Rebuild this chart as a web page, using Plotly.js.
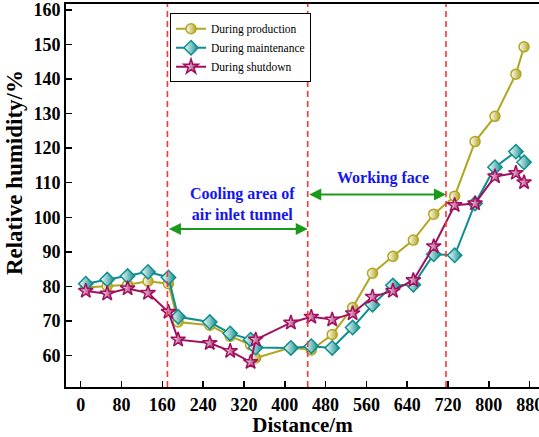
<!DOCTYPE html>
<html>
<head>
<meta charset="utf-8">
<script src="https://cdn.plot.ly/plotly-3.0.1.min.js"></script>
<style>html,body{margin:0;padding:0;background:#fff;}</style>
</head>
<body>
<div id="chart" style="width:539px;height:437px;"></div>
<script>
var distance = [10, 52, 92, 132, 172, 191, 253, 293, 333, 343, 412, 452, 493, 533, 572, 612, 652, 692, 733, 773, 812, 853, 869];
var production = [79.7, 80.1, 80.5, 81.5, 80.8, 69.7, 68.8, 65.6, 63.1, 59.3, 62.3, 61.6, 66.1, 73.9, 83.8, 88.7, 93.4, 100.9, 106.1, 121.9, 129.2, 141.4, 149.3];
var maintenance = [80.8, 82.0, 83.0, 84.2, 82.6, 71.2, 69.7, 66.4, 64.6, 62.3, 62.2, 62.7, 62.2, 68.1, 74.7, 80.3, 80.5, 89.3, 89.0, 104.0, 114.5, 119.0, 115.9];
var shutdown = [78.7, 77.9, 79.4, 78.1, 72.6, 64.6, 63.6, 61.3, 58.1, 64.6, 69.5, 71.2, 70.4, 72.2, 77.0, 78.7, 81.8, 91.6, 103.5, 104.0, 111.8, 112.8, 110.1];
var seriesNames = ["During production", "During maintenance", "During shutdown"];
var boundaries = [170, 445, 716];
var xTicks = [0, 80, 160, 240, 320, 400, 480, 560, 640, 720, 800, 880];
var yTicks = [60, 70, 80, 90, 100, 110, 120, 130, 140, 150, 160];
var regionLabels = ["Cooling area of<br>air inlet tunnel", "Working face"];
var regionArrowY = [96.6, 106.6];
var regionLabelPos = [[317, 103.8], [593, 111.5]];
var xTitle = "Distance/m";
var yTitle = "Relative humidity/%";

var colors = ["#B2A620", "#0E8E8E", "#A0105E"];
var symbols = ["circle", "diamond", "star"];
var sizes = [10, 11, 11];
var ys = [production, maintenance, shutdown];

var traces = ys.map(function(y, i) {
  return {
    x: distance, y: y, type: "scatter", mode: "lines+markers",
    name: seriesNames[i],
    line: {color: colors[i], width: 2},
    marker: {symbol: symbols[i], size: sizes[i], color: "#ffffff",
             gradient: {type: "horizontal", color: colors[i]},
             line: {color: colors[i], width: 1.5}}
  };
});

var shapes = boundaries.map(function(b) {
  return {type: "line", xref: "x", yref: "paper", x0: b, x1: b, y0: 0, y1: 1,
          line: {color: "#FF3333", width: 1.6, dash: "6px,4px"}};
});

var annotations = [
  {x: boundaries[1], y: regionArrowY[0], ax: boundaries[0], ay: regionArrowY[0],
   xref: "x", yref: "y", axref: "x", ayref: "y", text: "", showarrow: true,
   arrowside: "end+start", arrowhead: 2, arrowsize: 1.2, arrowwidth: 2, arrowcolor: "#1A9A1A"},
  {x: boundaries[2], y: regionArrowY[1], ax: boundaries[1], ay: regionArrowY[1],
   xref: "x", yref: "y", axref: "x", ayref: "y", text: "", showarrow: true,
   arrowside: "end+start", arrowhead: 2, arrowsize: 1.2, arrowwidth: 2, arrowcolor: "#1A9A1A"},
  {x: regionLabelPos[0][0], y: regionLabelPos[0][1], xref: "x", yref: "y", text: "<b>" + regionLabels[0] + "</b>",
   showarrow: false, font: {family: "Liberation Serif", size: 16, color: "#1515F0"}},
  {x: regionLabelPos[1][0], y: regionLabelPos[1][1], xref: "x", yref: "y", text: "<b>" + regionLabels[1] + "</b>",
   showarrow: false, font: {family: "Liberation Serif", size: 16, color: "#1515F0"}},
  {x: -0.11, y: 0.561, xref: "paper", yref: "paper", xanchor: "center", yanchor: "middle",
   text: "<b>" + yTitle + "</b>", textangle: -90, showarrow: false,
   font: {family: "Liberation Serif", size: 23, color: "#000"}}
];

var layout = {
  width: 539, height: 437,
  margin: {l: 66, r: 0, t: 4, b: 50},
  paper_bgcolor: "#ffffff", plot_bgcolor: "#ffffff",
  font: {family: "Liberation Serif", color: "#000"},
  showlegend: true,
  legend: {x: 0.22, y: 0.976, xanchor: "left", yanchor: "top",
           bgcolor: "#ffffff", bordercolor: "#000", borderwidth: 1,
           font: {family: "Liberation Serif", size: 11.5, color: "#000"},
           tracegroupgap: 0, itemwidth: 30},
  xaxis: {range: [-28.8, 898.3], tickvals: xTicks, ticktext: xTicks.map(String),
          ticks: "inside", ticklen: 6, tickwidth: 1.5, tickcolor: "#000",
          showline: true, linecolor: "#000", linewidth: 2, mirror: true,
          showgrid: false, zeroline: false, ticklabeloverflow: "allow",
          tickfont: {family: "Liberation Serif", size: 18, color: "#000", weight: "bold"},
          title: {text: "<b>" + xTitle + "</b>", font: {family: "Liberation Serif", size: 21, color: "#000"}, standoff: 6}},
  yaxis: {range: [50.9, 161.7], tickvals: yTicks, ticktext: yTicks.map(String),
          ticks: "inside", ticklen: 6, tickwidth: 1.5, tickcolor: "#000",
          showline: true, linecolor: "#000", linewidth: 2, mirror: false,
          showgrid: false, zeroline: false, ticklabeloverflow: "allow",
          tickfont: {family: "Liberation Serif", size: 18, color: "#000", weight: "bold"}},
  shapes: shapes,
  annotations: annotations
};

Plotly.newPlot("chart", traces, layout, {displayModeBar: false, staticPlot: true});
</script>
</body>
</html>
